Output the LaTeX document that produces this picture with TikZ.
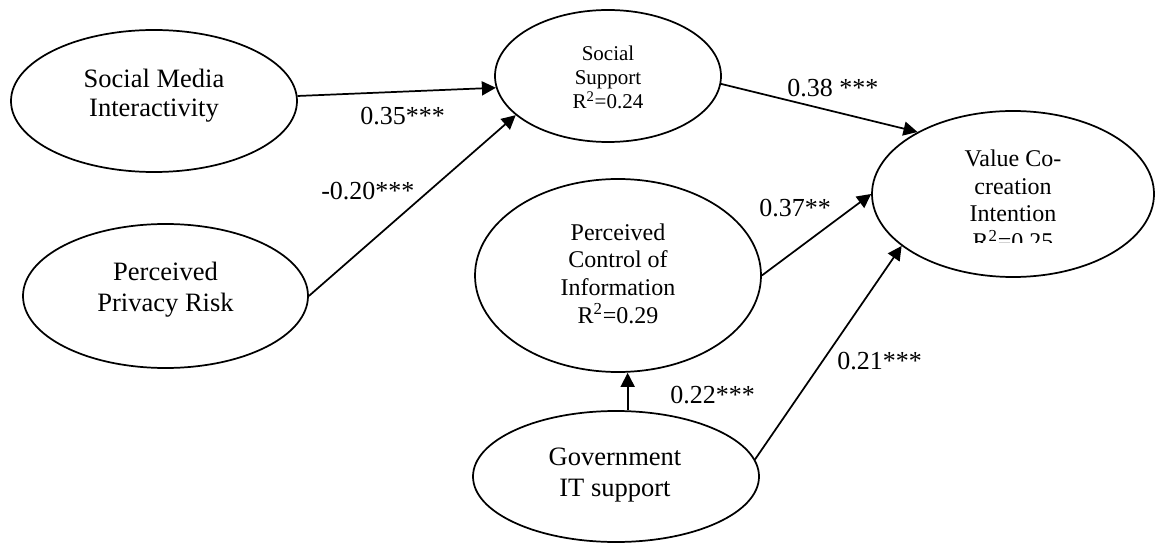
\documentclass[tikz,border=0pt]{standalone}
\usepackage{fontspec}
\setmainfont{Liberation Serif}
\usetikzlibrary{shapes.geometric,arrows.meta}
\begin{document}
\begin{tikzpicture}[x=0.75pt,y=-0.75pt,
  ell/.style={draw, ellipse, line width=1.3pt, inner sep=0pt},
  txt/.style={align=center, anchor=base, inner sep=0pt},
  bigf/.style={font=\fontsize{19.9pt}{23.2pt}\selectfont},
  smallf/.style={font=\fontsize{15.75pt}{18pt}\selectfont},
  midf/.style={font=\fontsize{18pt}{20.8pt}\selectfont},
  lbl/.style={anchor=base west, inner sep=0pt, font=\fontsize{19.5pt}{22pt}\selectfont},
  arr/.style={-{Triangle[length=10.5pt,width=10.5pt]}, line width=1.3pt}]
\useasboundingbox (0,0) rectangle (1156,545);

% ellipses
\node[ell, minimum width=214.5pt, minimum height=106.5pt] (smi) at (154,101) {};
\node[ell, minimum width=213.75pt, minimum height=108pt] (ppr) at (165.5,296) {};
\node[ell, minimum width=169.5pt, minimum height=99pt] (ss) at (608,76) {};
\node[ell, minimum width=211.5pt, minimum height=124.5pt] (vci) at (1013,194) {};
\node[ell, minimum width=214.5pt, minimum height=144.75pt] (pci) at (618,275.5) {};
\node[ell, minimum width=214.5pt, minimum height=98.25pt] (git) at (616,476.5) {};

% texts (anchored at the baseline of the last line)
\node[txt, font=\fontsize{19.9pt}{22pt}\selectfont] (smit) at (154,116.7) {Social Media\\Interactivity};
\node[txt, bigf] (pprt) at (165.5,311.7) {Perceived\\Privacy Risk};
\node[txt, smallf] (sst) at (608,108.3) {Social\\Support\\R\textsuperscript{2}=0.24};
\node[txt, midf] (pcit) at (618,323.3) {Perceived\\Control of\\Information\\R\textsuperscript{2}=0.29};
\node[txt, bigf] (gitt) at (615,496.7) {Government\\IT support};
\node[txt, font=\fontsize{18pt}{20.6pt}\selectfont] (vcit) at (1013,221.7) {Value Co-\\creation\\Intention};
\begin{scope}
  \clip (880,230) rectangle (1150,243);
  \node[txt, font=\fontsize{18pt}{20.6pt}\selectfont] (vcir) at (1013,249.5) {R\textsuperscript{2}=0.25};
\end{scope}

% connectors
\draw[arr] (smi.2) -- (ss.186);
\draw[arr] (ppr.0) -- (ss.203);
\draw[arr] (ss.-4.5) -- (vci.147.6);
\draw[arr] (pci.-0.6) -- (vci.180);
\draw[arr] (git.7.7) -- (vci.205.2);
\draw[arr] (git.80.5) -- (git.80.5 |- pci.south);

% labels
\node[lbl] (l1) at (360,125) {0.35***};
\node[lbl] (l2) at (321,200) {-0.20***};
\node[lbl] (l3) at (787,97) {0.38 ***};
\node[lbl] (l4) at (759,217) {0.37**};
\node[lbl] (l5) at (670,403) {0.22***};
\node[lbl] (l6) at (837,369) {0.21***};
\end{tikzpicture}
\end{document}
